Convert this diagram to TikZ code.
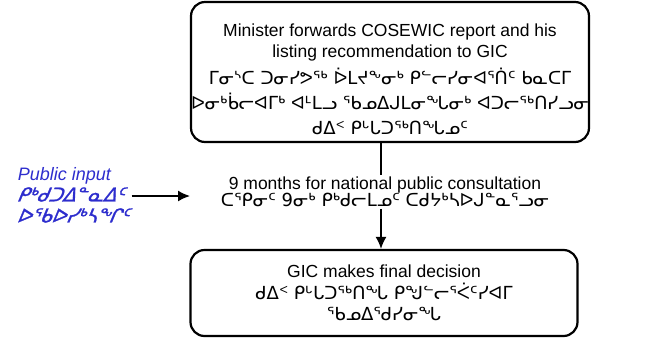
\documentclass[tikz,border=0pt]{standalone}
\usepackage{fontspec}
\setmainfont{Liberation Sans}
\newfontfamily\syl{DejaVu Sans}
\newfontfamily\sylpub[FakeSlant=0.22,FakeBold=1.2]{DejaVu Sans}
\usetikzlibrary{arrows.meta,positioning}
\definecolor{pubblue}{RGB}{45,45,205}
\newcommand{\sylline}[1]{{\syl\fontsize{18}{24}\selectfont #1}}
\begin{document}
\begin{tikzpicture}[x=1pt, y=-1pt, line width=1.6pt, >={Latex[length=12pt,width=11pt]},
    stage/.style={draw, line width=2.2pt, rounded corners=14pt, align=center, inner sep=0pt,
        font=\fontsize{17.5}{21}\selectfont},
    plain/.style={align=center, inner sep=1pt, font=\fontsize{17.5}{21}\selectfont}]
    \useasboundingbox (0,0) rectangle (646,338);
    \node[stage, minimum width=388pt, minimum height=140pt] (minister) at (390,72)
        {\rule{0pt}{27pt}Minister forwards COSEWIC report and his\\
         listing recommendation to GIC\\[6pt]
         \sylline{ᒥᓂᔅᑕ ᑐᓂᓯᕗᖅ ᐆᒪᔪᖕᓂᒃ ᑭᓪᓕᓯᓂᐊᕐᑏᑦ ᑲᓇᑕᒥ}\\[4pt]
         \sylline{ᐅᓂᒃᑳᓕᐊᒥᒃ ᐊᒻᒪᓗ ᖃᓄᐃᒍᒪᓂᖓᓂᒃ ᐊᑐᓕᖅᑎᓯᓗᓂ}\\[4pt]
         \sylline{ᑯᐃᑉ ᑭᒡᒐᑐᖅᑎᖓᓄᑦ}};
    \node[plain] (consult) at (385,192)
        {9 months for national public consultation\\[-4pt]
         \sylline{ᑕᕐᑭᓂᑦ 9ᓂᒃ ᑭᒃᑯᓕᒪᓄᑦ ᑕᑯᔭᒃᓴᐅᒍᓐᓇᕐᓗᓂ}};
    \node[stage, minimum width=387pt, minimum height=86pt] (decision) at (384,293)
        {GIC makes final decision\\[1pt]
         \sylline{ᑯᐃᑉ ᑭᒡᒐᑐᖅᑎᖓ ᑭᖑᓪᓕᕐᐹᑦᓯᐊᒥ}\\[0pt]
         \sylline{ᖃᓄᐃᕐᑯᓯᓂᖓ}};
    \node[align=left, anchor=west, inner sep=1pt, text=pubblue, font=\fontsize{18}{21}\selectfont\itshape] (public) at (16,195)
        {Public input\\
         {\sylpub\fontsize{19}{20}\selectfont ᑭᒃᑯᑐᐃᓐᓇᐃᑦ}\\
         {\sylpub\fontsize{19}{20}\selectfont ᐅᖃᐅᓯᒃᓴᖏᑦ}};
    \coordinate (spine) at (381,0);
    \coordinate (inlet) at (190,196);
    \draw (minister.south -| spine) -- (consult.north -| spine);
    \draw[->] (consult.south -| spine) -- (decision.north -| spine);
    \draw[->] (public.east |- inlet) -- (inlet);
\end{tikzpicture}
\end{document}
